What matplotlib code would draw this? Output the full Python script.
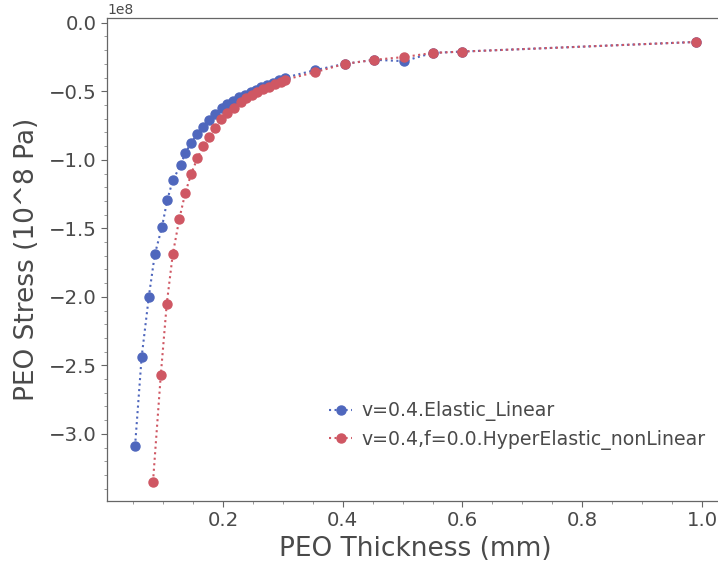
import matplotlib
matplotlib.use("Agg")
import matplotlib.pyplot as plt
from matplotlib.ticker import AutoMinorLocator
import numpy as np

# Data (stress in units of 1e8 Pa, thickness in mm)
thick_lin = [0.053, 0.064, 0.076, 0.086, 0.098, 0.107, 0.116, 0.129, 0.137, 0.147,
             0.157, 0.167, 0.177, 0.187, 0.198, 0.207, 0.217, 0.226, 0.236, 0.246,
             0.255, 0.264, 0.274, 0.284, 0.294, 0.304,
             0.354, 0.403, 0.453, 0.502, 0.550, 0.600, 0.990]
stress_lin = [-3.09, -2.44, -2.00, -1.69, -1.49, -1.29, -1.15, -1.04, -0.95, -0.875,
              -0.81, -0.76, -0.71, -0.665, -0.625, -0.595, -0.57, -0.545, -0.525, -0.505,
              -0.487, -0.47, -0.455, -0.437, -0.42, -0.40,
              -0.345, -0.30, -0.27, -0.28, -0.22, -0.21, -0.14]

thick_hyp = [0.083, 0.096, 0.106, 0.116, 0.127, 0.137, 0.147, 0.157, 0.167, 0.177,
             0.187, 0.197, 0.207, 0.218, 0.230, 0.238, 0.248, 0.256, 0.266, 0.276,
             0.286, 0.296, 0.304,
             0.354, 0.403, 0.453, 0.502, 0.550, 0.600, 0.990]
stress_hyp = [-3.35, -2.57, -2.05, -1.69, -1.43, -1.24, -1.10, -0.99, -0.90, -0.83,
              -0.765, -0.705, -0.66, -0.625, -0.58, -0.55, -0.525, -0.505, -0.485, -0.465,
              -0.45, -0.433, -0.415,
              -0.36, -0.30, -0.27, -0.25, -0.22, -0.21, -0.14]

labels = ["v=0.4.Elastic_Linear", "v=0.4,f=0.0.HyperElastic_nonLinear"]
colors = ["#4f67bd", "#cf5763"]

SCALE = 1e8
text_color = "#4a4a4a"

fig = plt.figure(figsize=(7.18, 5.65), dpi=100)
ax = fig.add_axes([107/718, 1 - 501/565, 617/718, 483/565])

ax.plot(thick_lin, np.array(stress_lin) * SCALE, ls=":", lw=1.5, marker="o",
        ms=6.5, color=colors[0], label=labels[0])
ax.plot(thick_hyp, np.array(stress_hyp) * SCALE, ls=":", lw=1.5, marker="o",
        ms=6.5, color=colors[1], label=labels[1])

ax.set_ylim(-3.49 * SCALE, 0.035 * SCALE)

ax.xaxis.set_minor_locator(AutoMinorLocator())
ax.yaxis.set_minor_locator(AutoMinorLocator())
ax.tick_params(which="major", direction="out", length=4, width=0.8,
               colors="#666666", labelcolor=text_color, labelsize=14.2)
ax.tick_params(which="minor", direction="out", length=2, width=0.6, colors="#888888")
for s in ax.spines.values():
    s.set_color("#666666")
    s.set_linewidth(0.9)

ax.set_xlabel("PEO Thickness (mm)", fontsize=19, color=text_color, labelpad=4)
ax.set_ylabel("PEO Stress (10^8 Pa)", fontsize=19, color=text_color, labelpad=6)
ax.yaxis.get_offset_text().set_fontsize(10)
ax.yaxis.get_offset_text().set_color(text_color)

leg = ax.legend(loc="upper left", bbox_to_anchor=(316/718, 1 - 388/565),
                bbox_transform=fig.transFigure, frameon=False, fontsize=13.6,
                handlelength=1.2, handletextpad=0.5, labelspacing=0.45,
                borderpad=0.2)
for t in leg.get_texts():
    t.set_color(text_color)

fig.savefig("out.png", dpi=100)
